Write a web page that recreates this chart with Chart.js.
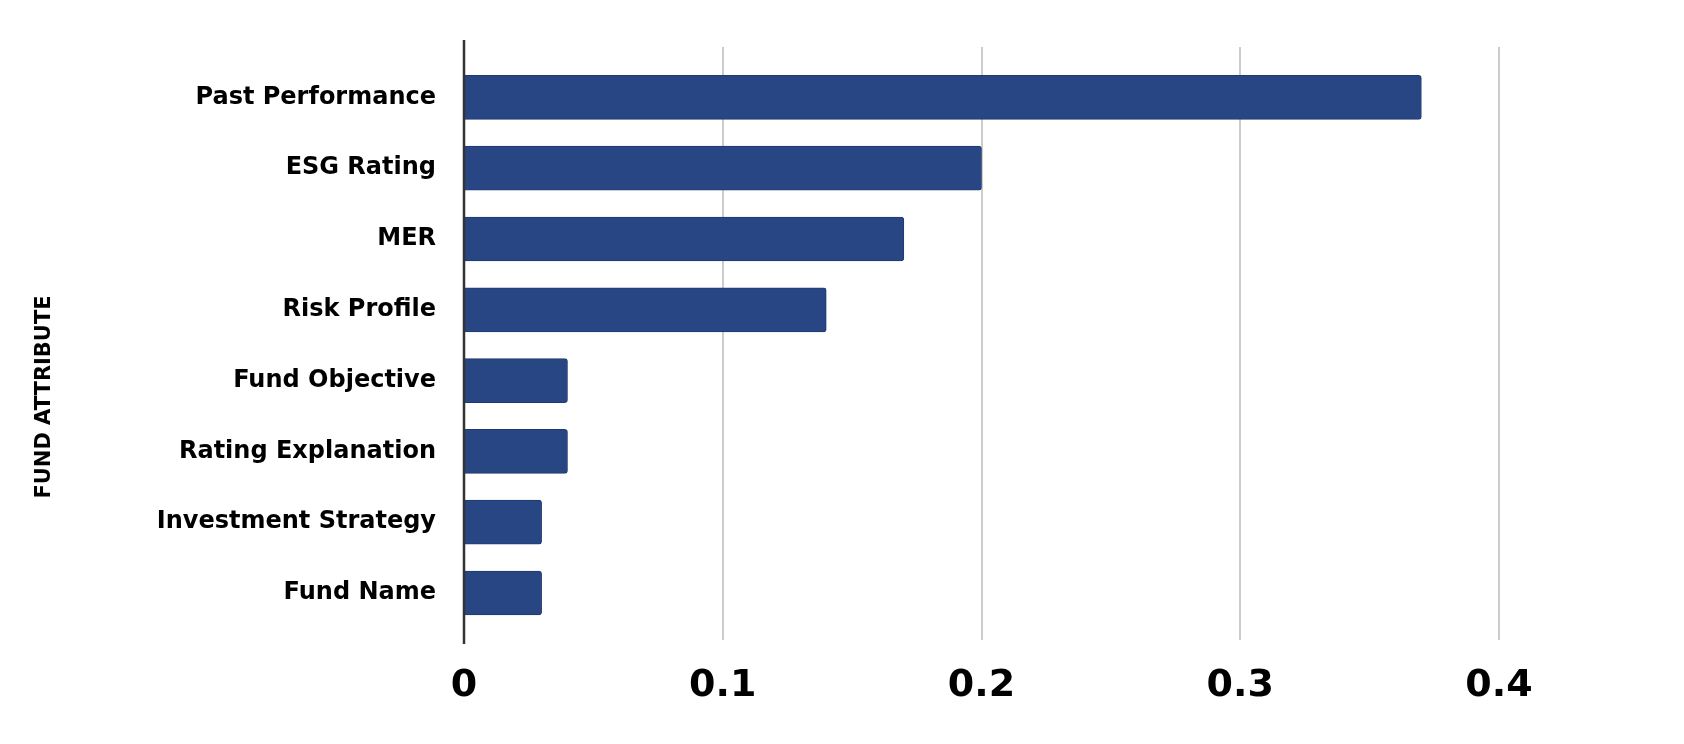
<!DOCTYPE html>
<html><head><meta charset="utf-8">
<script src="https://cdn.jsdelivr.net/npm/chart.js@4"></script>
<style>html,body{margin:0;padding:0;background:#fff}#w{width:1684px;height:744px}</style>
</head><body><div id="w"><canvas id="c"></canvas></div>
<script>
const categories = ["Past Performance","ESG Rating","MER","Risk Profile","Fund Objective","Rating Explanation","Investment Strategy","Fund Name"];
const importance = [0.37,0.2,0.17,0.14,0.04,0.04,0.03,0.03];
const xTicks = [0,0.1,0.2,0.3,0.4];
const axisTitle = "FUND ATTRIBUTE";
const FONT = "'DejaVu Sans'";

const deco = {
  id:'deco',
  beforeDatasetsDraw(chart){
    const {ctx} = chart, x = chart.scales.x;
    ctx.save();
    ctx.strokeStyle = '#cccccc'; ctx.lineWidth = 2;
    xTicks.slice(1).forEach(v=>{
      const px = Math.round(x.getPixelForValue(v));
      ctx.beginPath(); ctx.moveTo(px,47); ctx.lineTo(px,640); ctx.stroke();
    });
    ctx.restore();
  },
  afterDatasetsDraw(chart){
    const {ctx} = chart, x = chart.scales.x;
    ctx.save();
    const px = x.getPixelForValue(0);
    ctx.strokeStyle = '#333333'; ctx.lineWidth = 2.5;
    ctx.beginPath(); ctx.moveTo(px,40); ctx.lineTo(px,644); ctx.stroke();
    ctx.translate(45,397); ctx.rotate(-Math.PI/2);
    ctx.fillStyle = '#000'; ctx.font = 'bold 21px ' + FONT; ctx.textAlign='center'; ctx.textBaseline='middle';
    ctx.fillText(axisTitle,0,0);
    ctx.restore();
  }
};

new Chart(document.getElementById('c'),{
  type:'bar',
  data:{labels:categories,datasets:[{data:importance,backgroundColor:'#284683',borderColor:'#1f3a70',borderWidth:1,borderRadius:3,borderSkipped:'start',barThickness:44}]},
  options:{
    indexAxis:'y', responsive:true, maintainAspectRatio:false, animation:false,
    layout:{padding:{left:0,right:185,top:62,bottom:8}},
    plugins:{legend:{display:false},tooltip:{enabled:false}},
    scales:{
      x:{min:0,max:0.4,grid:{display:false},border:{display:false},
        afterBuildTicks(s){s.ticks = xTicks.map(v=>({value:v}));},
        ticks:{padding:27,color:'#000',font:{family:FONT,weight:'bold',size:38},callback:v=>String(v)}},
      y:{grid:{display:false},border:{display:false},
        afterFit(s){s.width=464;},
        ticks:{padding:20,color:'#000',font:{family:FONT,weight:'bold',size:24}}}
    }
  },
  plugins:[deco]
});
</script></body></html>
